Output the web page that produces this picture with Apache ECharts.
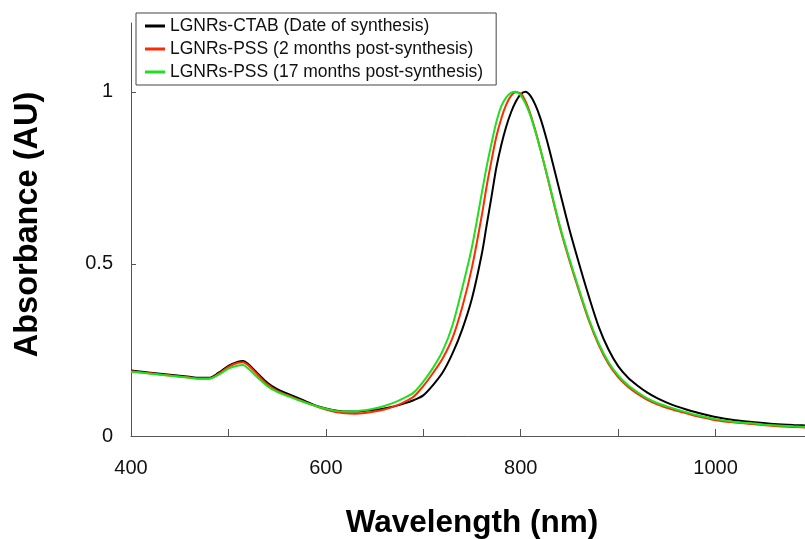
<!DOCTYPE html>
<html>
<head>
<meta charset="utf-8">
<script src="https://cdn.jsdelivr.net/npm/echarts@6/dist/echarts.min.js"></script>
<style>html,body{margin:0;padding:0;background:#fff;}#chart{width:805px;height:539px;}</style>
</head>
<body>
<div id="chart"></div>
<script>
var wavelengths = [400,420,440,460,470,480,490,500,510,515,520,530,540,550,560,570,580,590,600,610,620,630,640,650,660,670,680,690,700,710,720,730,740,750,760,765,770,775,780,785,790,795,800,805,810,815,820,825,830,840,850,860,870,880,890,900,910,920,930,940,950,960,970,980,990,1000,1020,1040,1060,1080,1100];

var ctab = [0.190,0.184,0.178,0.172,0.169,0.169,0.184,0.204,0.216,0.218,0.210,0.182,0.155,0.136,0.124,0.112,0.100,0.088,0.080,0.074,0.071,0.071,0.073,0.076,0.080,0.086,0.094,0.104,0.118,0.148,0.185,0.240,0.310,0.400,0.528,0.612,0.695,0.780,0.845,0.898,0.940,0.972,0.993,1.000,0.988,0.962,0.925,0.878,0.825,0.712,0.600,0.500,0.405,0.318,0.252,0.203,0.170,0.146,0.126,0.110,0.097,0.086,0.077,0.069,0.062,0.055,0.046,0.040,0.035,0.032,0.030];

var pss2 = [0.188,0.182,0.176,0.170,0.167,0.167,0.181,0.201,0.213,0.214,0.206,0.178,0.150,0.131,0.119,0.108,0.097,0.086,0.077,0.070,0.066,0.065,0.067,0.071,0.077,0.086,0.098,0.114,0.145,0.183,0.226,0.285,0.375,0.490,0.640,0.725,0.800,0.870,0.922,0.962,0.988,0.999,0.995,0.972,0.935,0.888,0.835,0.780,0.722,0.608,0.510,0.420,0.335,0.265,0.210,0.171,0.143,0.122,0.105,0.092,0.082,0.073,0.066,0.058,0.052,0.046,0.039,0.034,0.029,0.026,0.024];

var pss17 = [0.187,0.181,0.175,0.169,0.166,0.166,0.178,0.196,0.205,0.206,0.197,0.170,0.145,0.128,0.117,0.106,0.096,0.087,0.079,0.073,0.071,0.072,0.075,0.080,0.087,0.097,0.110,0.126,0.158,0.198,0.248,0.322,0.430,0.550,0.705,0.782,0.850,0.912,0.958,0.983,0.997,1.000,0.990,0.965,0.930,0.885,0.835,0.780,0.725,0.612,0.515,0.425,0.340,0.270,0.215,0.176,0.148,0.127,0.109,0.096,0.086,0.077,0.069,0.061,0.055,0.049,0.041,0.036,0.031,0.028,0.026];

var seriesNames = ['LGNRs-CTAB (Date of synthesis)','LGNRs-PSS (2 months post-synthesis)','LGNRs-PSS (17 months post-synthesis)'];
var seriesColors = ['#000000','#ff2a00','#1fe01f'];
var xTicks = [400,500,600,700,800,900,1000,1100];
var xLabels = [400,600,800,1000];
var yTicks = [0,0.5,1];
var yLabels = ['0','0.5','1'];

function pairs(vals){ return wavelengths.map(function(w,i){ return [w, vals[i]]; }); }
var allVals = [ctab, pss2, pss17];
var font = 'Liberation Sans, Arial, sans-serif';

var chart = echarts.init(document.getElementById('chart'));
chart.setOption({
  animation: false,
  backgroundColor: '#ffffff',
  grid: {left: 131, top: 23, width: 682, height: 413, containLabel: false, outerBoundsMode: 'none'},
  legend: {
    orient: 'vertical', left: 136, top: 13,
    padding: [4, 13, 4, 9], itemGap: 5,
    itemWidth: 20, itemHeight: 3, icon: 'rect',
    borderColor: '#444', borderWidth: 1,
    textStyle: {fontFamily: font, fontSize: 17.5, color: '#111', lineHeight: 18},
    data: seriesNames
  },
  xAxis: {
    type: 'value', min: 400, max: 1100,
    name: 'Wavelength (nm)', nameLocation: 'middle', nameGap: 71,
    nameTextStyle: {fontFamily: font, fontSize: 31.5, fontWeight: 'bold', color: '#000'},
    axisLine: {show: true, lineStyle: {color: '#555', width: 1}},
    axisTick: {show: true, inside: true, length: 7, lineStyle: {color: '#555'}, customValues: xTicks},
    axisLabel: {fontFamily: font, fontSize: 20, color: '#111', margin: 22, customValues: xLabels,
      formatter: function(v){ return String(v); }},
    splitLine: {show: false}
  },
  yAxis: {
    type: 'value', min: 0, max: 1.2,
    name: 'Absorbance (AU)', nameLocation: 'middle', nameGap: 86, nameRotate: 90,
    nameTextStyle: {fontFamily: font, fontSize: 32.5, fontWeight: 'bold', color: '#000', padding: [0, 0, 0, 10]},
    axisLine: {show: true, lineStyle: {color: '#555', width: 1}},
    axisTick: {show: true, inside: true, length: 5, lineStyle: {color: '#555'}, customValues: yTicks},
    axisLabel: {fontFamily: font, fontSize: 20, color: '#111', margin: 18, customValues: yTicks,
      formatter: function(v){ var i = yTicks.indexOf(v); return i >= 0 ? yLabels[i] : ''; }},
    splitLine: {show: false}
  },
  series: seriesNames.map(function(n, i){
    return {
      name: n, type: 'line', data: pairs(allVals[i]),
      showSymbol: false, symbol: 'none', smooth: 0.3,
      lineStyle: {color: seriesColors[i], width: 2},
      itemStyle: {color: seriesColors[i]},
      z: 2 + i
    };
  })
});
</script>
</body>
</html>
